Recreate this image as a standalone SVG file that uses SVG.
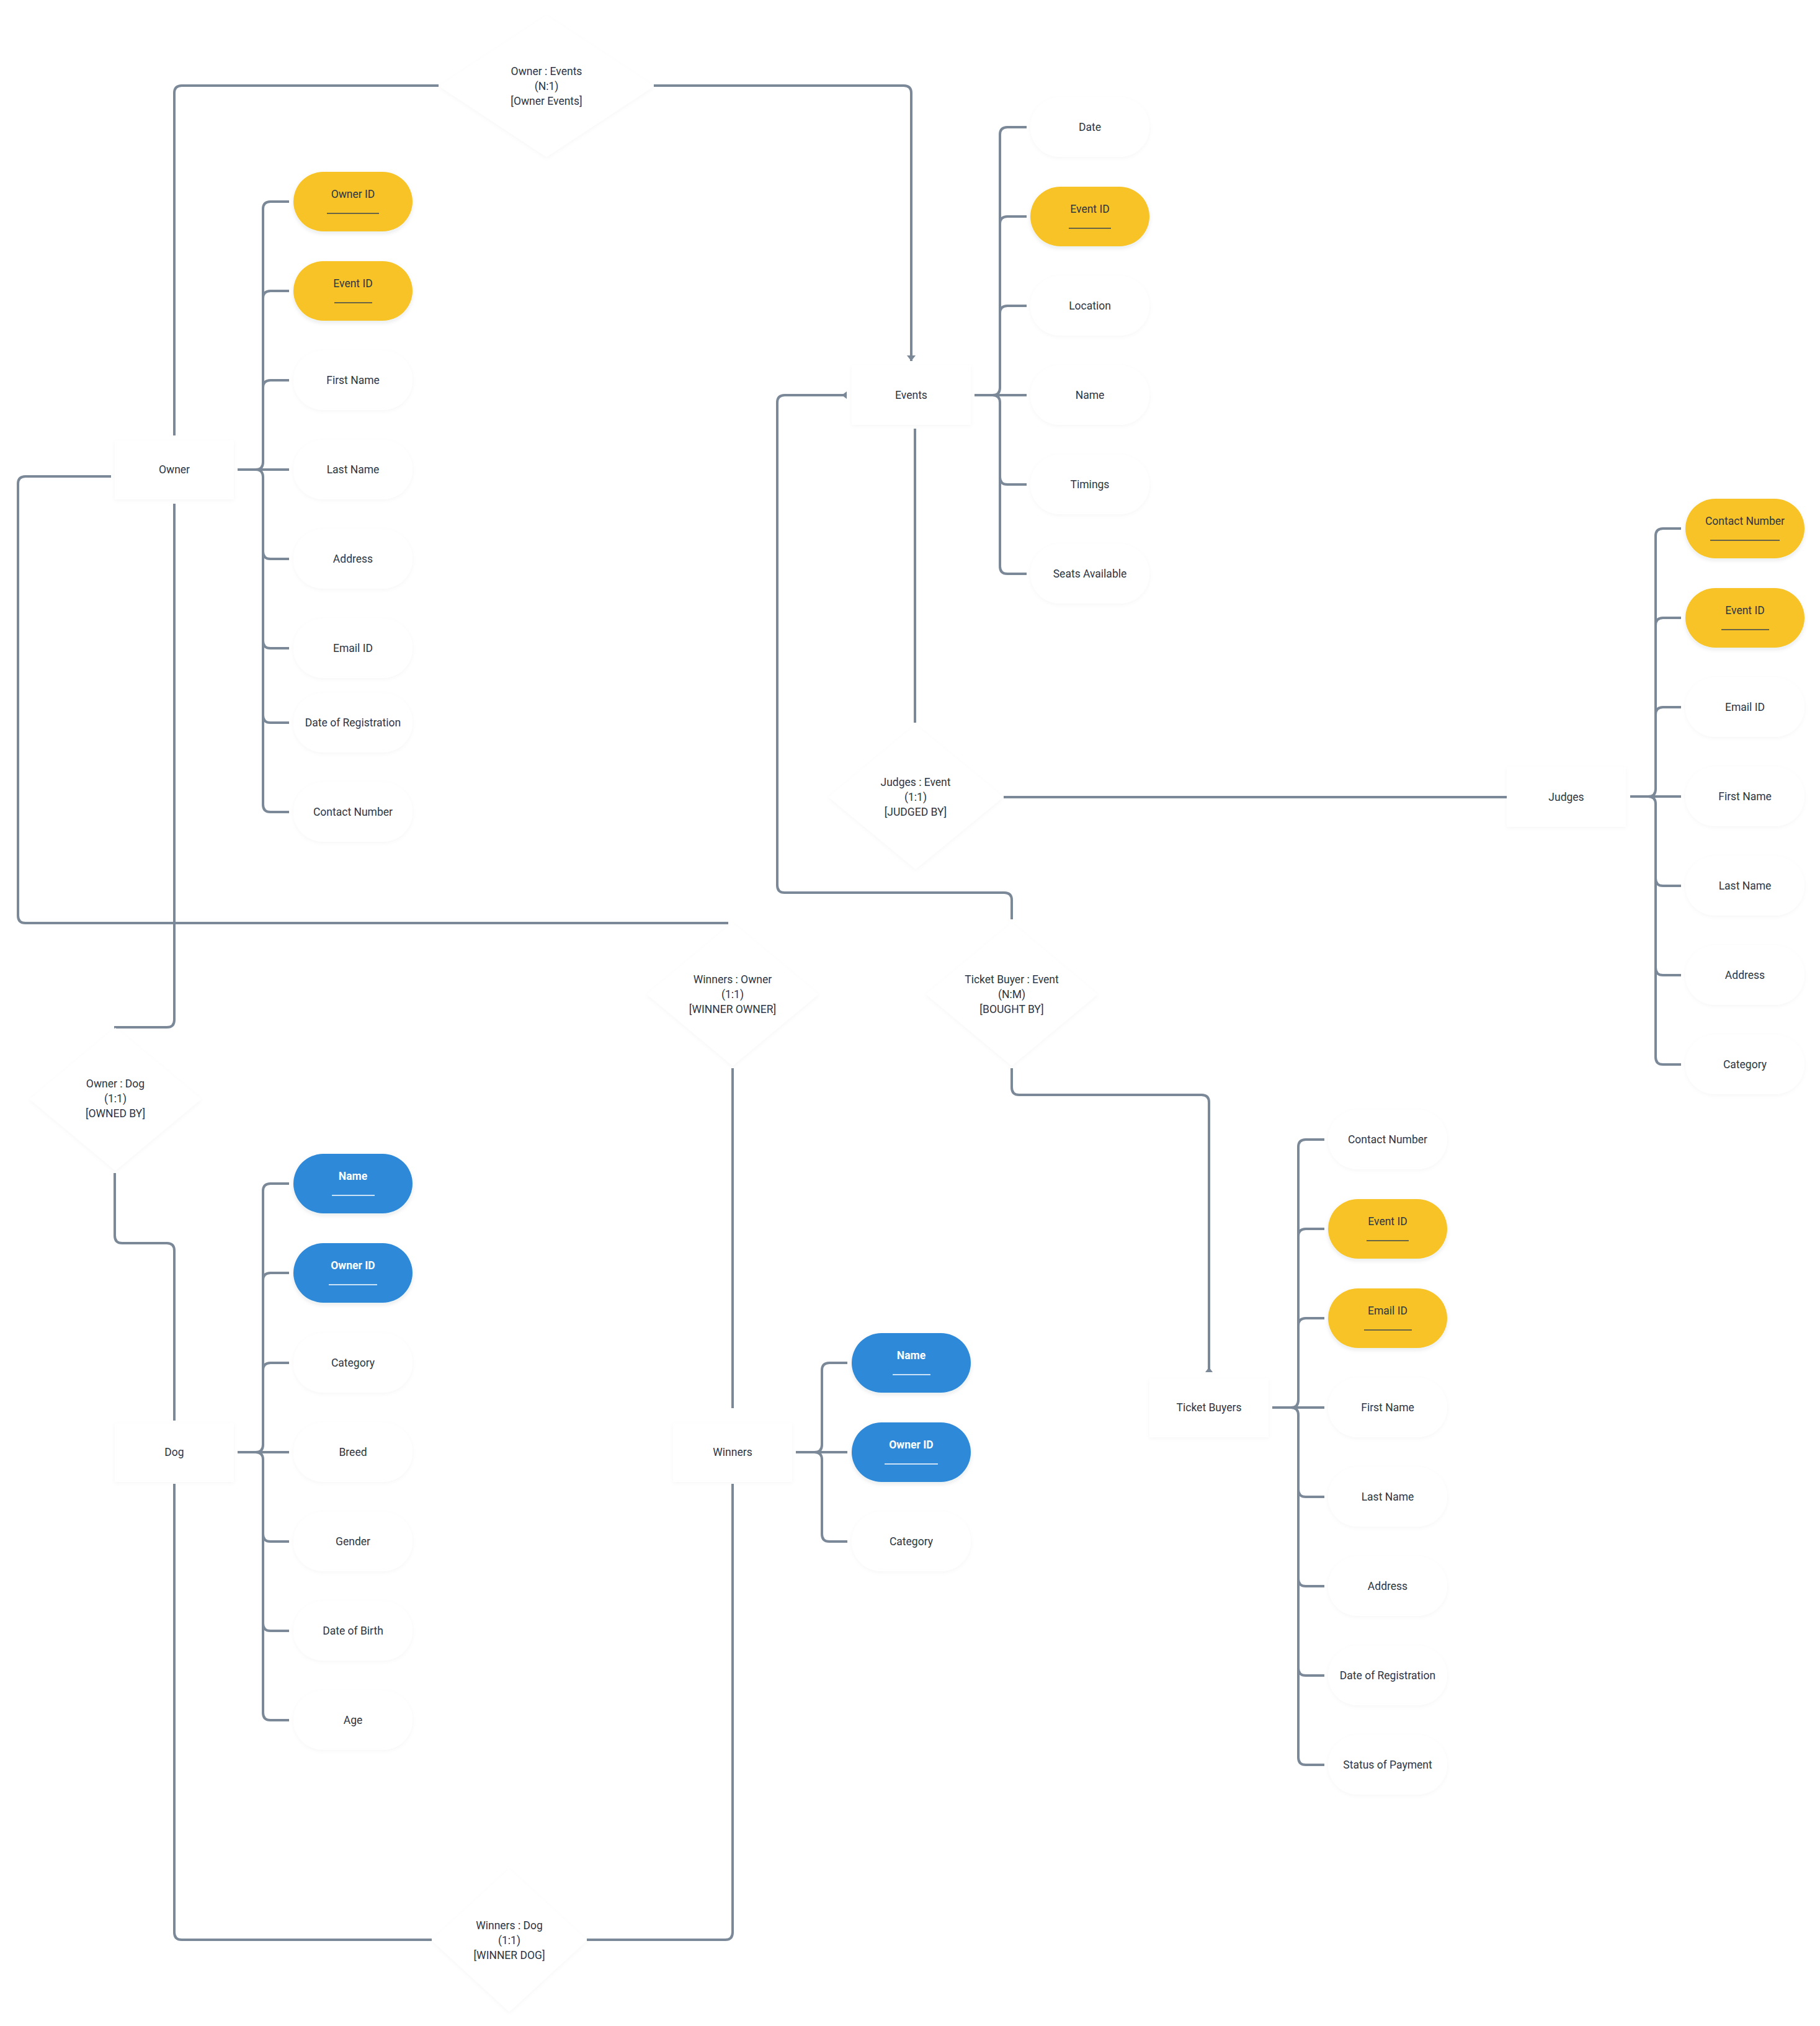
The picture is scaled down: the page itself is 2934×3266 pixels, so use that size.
<svg xmlns="http://www.w3.org/2000/svg" width="2934" height="3266" viewBox="0 0 2934 3266">
<style>
text{font-family:"Roboto","Liberation Sans",sans-serif;font-size:17.5px;fill:#2c3645;text-anchor:middle;dominant-baseline:central}
.ent{fill:#ffffff;filter:url(#sh)}
.att{fill:#ffffff;filter:url(#sh)}
.key{fill:#f8c326;filter:url(#shc)}
.pk{fill:#2e89d9;filter:url(#shc)}
.wt{fill:#ffffff;font-weight:bold}
.rel{fill:#ffffff;filter:url(#sh)}
.ul{stroke:#3a4452;stroke-width:1.3}
.ulw{stroke:#ffffff;stroke-width:1.3}
#connectors path{fill:none;stroke:#7a8898;stroke-width:4}
</style>
<defs>
<filter id="sh" x="-20%" y="-20%" width="140%" height="150%">
<feDropShadow dx="0" dy="2" stdDeviation="3" flood-color="#1f2d3d" flood-opacity="0.035"/>
</filter>
<filter id="shc" x="-20%" y="-20%" width="140%" height="150%">
<feDropShadow dx="0" dy="3" stdDeviation="3" flood-color="#1f2d3d" flood-opacity="0.1"/>
</filter>
<marker id="arr" markerUnits="userSpaceOnUse" markerWidth="16" markerHeight="16" refX="9" refY="7" orient="auto">
<path d="M0 0 L9 7 L0 14 Z" fill="#7a8898"/>
</marker>
<marker id="rev" markerUnits="userSpaceOnUse" markerWidth="16" markerHeight="16" refX="8" refY="6" orient="auto">
<path d="M0 6 L8 0 L8 12 Z" fill="#7a8898"/>
</marker>
</defs>
<rect width="2934" height="3266" fill="#ffffff"/>

<g id="connectors">
<path d="M281 702 V150 Q281 138 293 138 H707"/>
<path d="M1054 138 H1457 Q1469 138 1469 150 V582" marker-end="url(#arr)"/>
<path d="M1631 1482 V1451 Q1631 1439 1619 1439 H1265 Q1253 1439 1253 1427 V649 Q1253 637 1265 637 H1365" marker-end="url(#rev)"/>
<path d="M1475 691 V1165"/>
<path d="M1618 1285 H2430"/>
<path d="M179 768 H41 Q29 768 29 780 V1476 Q29 1488 41 1488 H1174"/>
<path d="M281 812 V1644 Q281 1656 269 1656 H184"/>
<path d="M185 1891 V1992 Q185 2004 197 2004 H269 Q281 2004 281 2016 V2290"/>
<path d="M1181 1722 V2270"/>
<path d="M1631 1722 V1753 Q1631 1765 1643 1765 H1937 Q1949 1765 1949 1777 V2212" marker-end="url(#rev)"/>
<path d="M281 2392 V3115 Q281 3127 293 3127 H696"/>
<path d="M1181 2392 V3115 Q1181 3127 1169 3127 H946"/>
<path d="M383 757 H412 Q424 757 424 745 V337 Q424 325 436 325 H466 M383 757 H412 Q424 757 424 745 V481 Q424 469 436 469 H466 M383 757 H412 Q424 757 424 745 V625 Q424 613 436 613 H466 M383 757 H466 M383 757 H412 Q424 757 424 769 V889 Q424 901 436 901 H466 M383 757 H412 Q424 757 424 769 V1033 Q424 1045 436 1045 H466 M383 757 H412 Q424 757 424 769 V1153 Q424 1165 436 1165 H466 M383 757 H412 Q424 757 424 769 V1297 Q424 1309 436 1309 H466"/>
<path d="M1571 637 H1600 Q1612 637 1612 625 V217 Q1612 205 1624 205 H1655 M1571 637 H1600 Q1612 637 1612 625 V361 Q1612 349 1624 349 H1655 M1571 637 H1600 Q1612 637 1612 625 V505 Q1612 493 1624 493 H1655 M1571 637 H1655 M1571 637 H1600 Q1612 637 1612 649 V769 Q1612 781 1624 781 H1655 M1571 637 H1600 Q1612 637 1612 649 V913 Q1612 925 1624 925 H1655"/>
<path d="M2628 1284 H2657 Q2669 1284 2669 1272 V864 Q2669 852 2681 852 H2710 M2628 1284 H2657 Q2669 1284 2669 1272 V1008 Q2669 996 2681 996 H2710 M2628 1284 H2657 Q2669 1284 2669 1272 V1152 Q2669 1140 2681 1140 H2710 M2628 1284 H2710 M2628 1284 H2657 Q2669 1284 2669 1296 V1416 Q2669 1428 2681 1428 H2710 M2628 1284 H2657 Q2669 1284 2669 1296 V1560 Q2669 1572 2681 1572 H2710 M2628 1284 H2657 Q2669 1284 2669 1296 V1704 Q2669 1716 2681 1716 H2710"/>
<path d="M2051 2269 H2081 Q2093 2269 2093 2257 V1849 Q2093 1837 2105 1837 H2135 M2051 2269 H2081 Q2093 2269 2093 2257 V1993 Q2093 1981 2105 1981 H2135 M2051 2269 H2081 Q2093 2269 2093 2257 V2137 Q2093 2125 2105 2125 H2135 M2051 2269 H2135 M2051 2269 H2081 Q2093 2269 2093 2281 V2401 Q2093 2413 2105 2413 H2135 M2051 2269 H2081 Q2093 2269 2093 2281 V2545 Q2093 2557 2105 2557 H2135 M2051 2269 H2081 Q2093 2269 2093 2281 V2689 Q2093 2701 2105 2701 H2135 M2051 2269 H2081 Q2093 2269 2093 2281 V2833 Q2093 2845 2105 2845 H2135"/>
<path d="M383 2341 H412 Q424 2341 424 2329 V1920 Q424 1908 436 1908 H466 M383 2341 H412 Q424 2341 424 2329 V2064 Q424 2052 436 2052 H466 M383 2341 H412 Q424 2341 424 2329 V2209 Q424 2197 436 2197 H466 M383 2341 H466 M383 2341 H412 Q424 2341 424 2353 V2473 Q424 2485 436 2485 H466 M383 2341 H412 Q424 2341 424 2353 V2617 Q424 2629 436 2629 H466 M383 2341 H412 Q424 2341 424 2353 V2761 Q424 2773 436 2773 H466"/>
<path d="M1283 2341 H1313 Q1325 2341 1325 2329 V2209 Q1325 2197 1337 2197 H1366 M1283 2341 H1366 M1283 2341 H1313 Q1325 2341 1325 2353 V2473 Q1325 2485 1337 2485 H1366"/>
</g>

<g id="rel-owner-events"><polygon class="rel" points="881,25 1054,139 881,253 708,139"/><text x="881" y="115">Owner : Events</text><text x="881" y="139">(N:1)</text><text x="881" y="163">[Owner Events]</text></g>
<g id="rel-judges-event"><polygon class="rel" points="1476,1169 1617,1285 1476,1401 1336,1285"/><text x="1476" y="1261">Judges : Event</text><text x="1476" y="1285">(1:1)</text><text x="1476" y="1309">[JUDGED BY]</text></g>
<g id="rel-winners-owner"><polygon class="rel" points="1181,1488 1319,1603 1181,1718 1043,1603"/><text x="1181" y="1579">Winners : Owner</text><text x="1181" y="1603">(1:1)</text><text x="1181" y="1627">[WINNER OWNER]</text></g>
<g id="rel-ticketbuyer-event"><polygon class="rel" points="1631,1488 1769,1603 1631,1718 1493,1603"/><text x="1631" y="1579">Ticket Buyer : Event</text><text x="1631" y="1603">(N:M)</text><text x="1631" y="1627">[BOUGHT BY]</text></g>
<g id="rel-owner-dog"><polygon class="rel" points="186,1657 324,1772 186,1887 48,1772"/><text x="186" y="1747">Owner : Dog</text><text x="186" y="1771">(1:1)</text><text x="186" y="1795">[OWNED BY]</text></g>
<g id="rel-winners-dog"><polygon class="rel" points="821,3013 946,3128 821,3243 696,3128"/><text x="821" y="3104">Winners : Dog</text><text x="821" y="3128">(1:1)</text><text x="821" y="3152">[WINNER DOG]</text></g>

<g id="owner"><rect class="ent" x="185" y="710" width="192" height="95" rx="2"/><text x="281" y="757">Owner</text></g>
<g id="owner-attrs">
<rect class="key" x="473" y="277" width="192" height="96" rx="48"/><text x="569" y="313">Owner ID</text><line class="ul" x1="527" y1="344" x2="611" y2="344"/>
<rect class="key" x="473" y="421" width="192" height="96" rx="48"/><text x="569" y="457">Event ID</text><line class="ul" x1="539" y1="488" x2="600" y2="488"/>
<rect class="att" x="473" y="565" width="192" height="96" rx="48"/><text x="569" y="613">First Name</text>
<rect class="att" x="473" y="709" width="192" height="96" rx="48"/><text x="569" y="757">Last Name</text>
<rect class="att" x="473" y="853" width="192" height="96" rx="48"/><text x="569" y="901">Address</text>
<rect class="att" x="473" y="997" width="192" height="96" rx="48"/><text x="569" y="1045">Email ID</text>
<rect class="att" x="473" y="1117" width="192" height="96" rx="48"/><text x="569" y="1165">Date of Registration</text>
<rect class="att" x="473" y="1261" width="192" height="96" rx="48"/><text x="569" y="1309">Contact Number</text>
</g>

<g id="events"><rect class="ent" x="1373" y="589" width="192" height="96" rx="2"/><text x="1469" y="637">Events</text></g>
<g id="events-attrs">
<rect class="att" x="1661" y="157" width="192" height="96" rx="48"/><text x="1757" y="205">Date</text>
<rect class="key" x="1661" y="301" width="192" height="96" rx="48"/><text x="1757" y="337">Event ID</text><line class="ul" x1="1723" y1="368" x2="1791" y2="368"/>
<rect class="att" x="1661" y="445" width="192" height="96" rx="48"/><text x="1757" y="493">Location</text>
<rect class="att" x="1661" y="589" width="192" height="96" rx="48"/><text x="1757" y="637">Name</text>
<rect class="att" x="1661" y="733" width="192" height="96" rx="48"/><text x="1757" y="781">Timings</text>
<rect class="att" x="1661" y="877" width="192" height="96" rx="48"/><text x="1757" y="925">Seats Available</text>
</g>

<g id="judges"><rect class="ent" x="2429" y="1237" width="192" height="96" rx="2"/><text x="2525" y="1285">Judges</text></g>
<g id="judges-attrs">
<rect class="key" x="2717" y="804" width="192" height="96" rx="48"/><text x="2813" y="840">Contact Number</text><line class="ul" x1="2757" y1="871" x2="2869" y2="871"/>
<rect class="key" x="2717" y="948" width="192" height="96" rx="48"/><text x="2813" y="984">Event ID</text><line class="ul" x1="2775" y1="1015" x2="2852" y2="1015"/>
<rect class="att" x="2717" y="1092" width="192" height="96" rx="48"/><text x="2813" y="1140">Email ID</text>
<rect class="att" x="2717" y="1236" width="192" height="96" rx="48"/><text x="2813" y="1284">First Name</text>
<rect class="att" x="2717" y="1380" width="192" height="96" rx="48"/><text x="2813" y="1428">Last Name</text>
<rect class="att" x="2717" y="1524" width="192" height="96" rx="48"/><text x="2813" y="1572">Address</text>
<rect class="att" x="2717" y="1668" width="192" height="96" rx="48"/><text x="2813" y="1716">Category</text>
</g>

<g id="ticket-buyers"><rect class="ent" x="1853" y="2222" width="192" height="95" rx="2"/><text x="1949" y="2269">Ticket Buyers</text></g>
<g id="ticket-buyers-attrs">
<rect class="att" x="2141" y="1789" width="192" height="96" rx="48"/><text x="2237" y="1837">Contact Number</text>
<rect class="key" x="2141" y="1933" width="192" height="96" rx="48"/><text x="2237" y="1969">Event ID</text><line class="ul" x1="2203" y1="2000" x2="2271" y2="2000"/>
<rect class="key" x="2141" y="2077" width="192" height="96" rx="48"/><text x="2237" y="2113">Email ID</text><line class="ul" x1="2199" y1="2144" x2="2276" y2="2144"/>
<rect class="att" x="2141" y="2221" width="192" height="96" rx="48"/><text x="2237" y="2269">First Name</text>
<rect class="att" x="2141" y="2365" width="192" height="96" rx="48"/><text x="2237" y="2413">Last Name</text>
<rect class="att" x="2141" y="2509" width="192" height="96" rx="48"/><text x="2237" y="2557">Address</text>
<rect class="att" x="2141" y="2653" width="192" height="96" rx="48"/><text x="2237" y="2701">Date of Registration</text>
<rect class="att" x="2141" y="2797" width="192" height="96" rx="48"/><text x="2237" y="2845">Status of Payment</text>
</g>

<g id="dog"><rect class="ent" x="185" y="2294" width="192" height="95" rx="2"/><text x="281" y="2341">Dog</text></g>
<g id="dog-attrs">
<rect class="pk" x="473" y="1860" width="192" height="96" rx="48"/><text class="wt" x="569" y="1896">Name</text><line class="ulw" x1="535" y1="1927" x2="604" y2="1927"/>
<rect class="pk" x="473" y="2004" width="192" height="96" rx="48"/><text class="wt" x="569" y="2040">Owner ID</text><line class="ulw" x1="530" y1="2071" x2="608" y2="2071"/>
<rect class="att" x="473" y="2149" width="192" height="96" rx="48"/><text x="569" y="2197">Category</text>
<rect class="att" x="473" y="2293" width="192" height="96" rx="48"/><text x="569" y="2341">Breed</text>
<rect class="att" x="473" y="2437" width="192" height="96" rx="48"/><text x="569" y="2485">Gender</text>
<rect class="att" x="473" y="2581" width="192" height="96" rx="48"/><text x="569" y="2629">Date of Birth</text>
<rect class="att" x="473" y="2725" width="192" height="96" rx="48"/><text x="569" y="2773">Age</text>
</g>

<g id="winners"><rect class="ent" x="1085" y="2294" width="192" height="95" rx="2"/><text x="1181" y="2341">Winners</text></g>
<g id="winners-attrs">
<rect class="pk" x="1373" y="2149" width="192" height="96" rx="48"/><text class="wt" x="1469" y="2185">Name</text><line class="ulw" x1="1439" y1="2216" x2="1500" y2="2216"/>
<rect class="pk" x="1373" y="2293" width="192" height="96" rx="48"/><text class="wt" x="1469" y="2329">Owner ID</text><line class="ulw" x1="1426" y1="2360" x2="1512" y2="2360"/>
<rect class="att" x="1373" y="2437" width="192" height="96" rx="48"/><text x="1469" y="2485">Category</text>
</g>
</svg>
